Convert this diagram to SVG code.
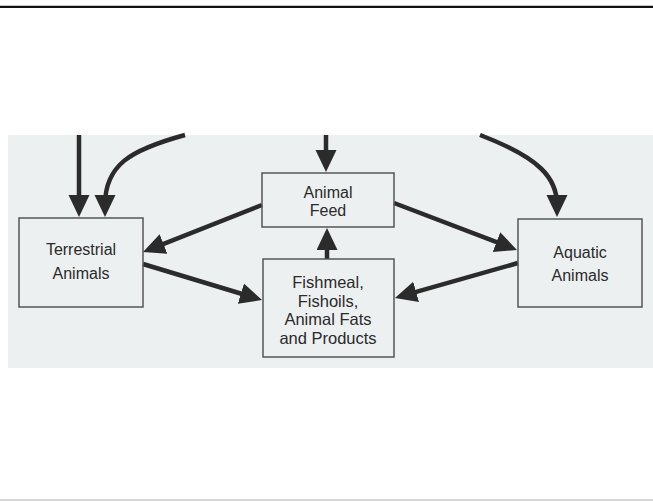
<svg xmlns="http://www.w3.org/2000/svg" width="653" height="501" viewBox="0 0 653 501">
<defs>
<style>
.box{fill:none;stroke:#555;stroke-width:1.5}
.lbl{font-family:"Liberation Sans",Arial,sans-serif;font-size:16px;fill:#2a2a2a;text-anchor:middle}
.big{font-size:16.5px}
.edge{fill:none;stroke:#2b2b2b;stroke-width:4.5;marker-end:url(#ah)}
</style>
<marker id="ah" markerUnits="userSpaceOnUse" markerWidth="24" markerHeight="22" refX="10" refY="10.5" orient="auto" viewBox="0 0 24 22">
<path d="M0,0 L22,10.5 L0,21 Z" fill="#2b2b2b"/>
</marker>
</defs>
<rect x="0" y="0" width="653" height="501" fill="#ffffff"/>
<line x1="0" y1="6.8" x2="653" y2="6.8" stroke="#111" stroke-width="2.2"/>
<line x1="0" y1="500" x2="653" y2="500" stroke="#c8c8c8" stroke-width="1.5"/>
<rect x="8" y="135" width="645" height="233" fill="#edf0f1"/>
<g id="connectors">
<path class="edge" d="M79,135 L79,205"/>
<path class="edge" d="M185,135 C130,150 105,165 105,205"/>
<path class="edge" d="M326,135 L326,160"/>
<path class="edge" d="M480,135 C540,158 557,178 557,205"/>
<path class="edge" d="M262,205 L154.2,247.6"/>
<path class="edge" d="M143,264 L250.5,296.5"/>
<path class="edge" d="M394,203 L505.8,245.7"/>
<path class="edge" d="M518,263 L406.5,294.7"/>
<path class="edge" d="M327,259 L327,240"/>
</g>
<g id="terrestrial">
<rect class="box" x="19" y="218" width="124" height="89"/>
<text class="lbl" x="81" y="255">Terrestrial</text>
<text class="lbl" x="81" y="279">Animals</text>
</g>
<g id="feed">
<rect class="box" x="262" y="173" width="132" height="54"/>
<text class="lbl" x="328" y="198">Animal</text>
<text class="lbl" x="328" y="216">Feed</text>
</g>
<g id="fishmeal">
<rect class="box" x="263" y="259" width="131" height="98"/>
<text class="lbl big" x="328" y="288">Fishmeal,</text>
<text class="lbl big" x="328" y="306.5">Fishoils,</text>
<text class="lbl big" x="328" y="325">Animal Fats</text>
<text class="lbl big" x="328" y="343.5">and Products</text>
</g>
<g id="aquatic">
<rect class="box" x="518" y="219" width="124" height="88"/>
<text class="lbl" x="580" y="258">Aquatic</text>
<text class="lbl" x="580" y="281">Animals</text>
</g>
</svg>
